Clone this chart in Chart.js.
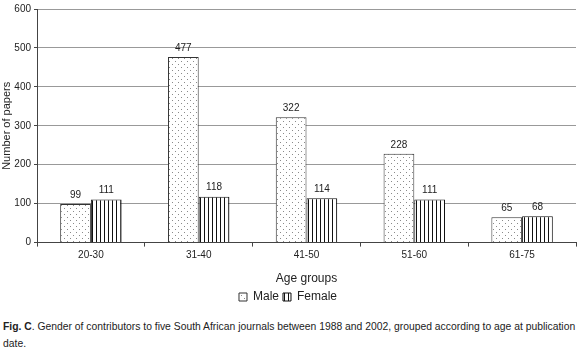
<!DOCTYPE html>
<html>
<head>
<meta charset="utf-8">
<script src="https://cdn.jsdelivr.net/npm/chart.js@4"></script>
<style>
  body { margin: 0; background: #fff; font-family: "Liberation Sans", Arial, sans-serif; }
  #wrap { position: relative; width: 580px; height: 351px; }
  #chart { position: absolute; left: 0; top: 0; }
  #caption { position: absolute; left: 3px; top: 318px; width: 577px; font-size: 10.35px; line-height: 17px; color: #222; }
</style>
</head>
<body>
<div id="wrap">
  <canvas id="chart" width="580" height="313"></canvas>
  <div id="caption"><b>Fig. C</b>. Gender of contributors to five South African journals between 1988 and 2002, grouped according to age at publication date.</div>
</div>
<script>
const ageGroups = ['20-30', '31-40', '41-50', '51-60', '61-75']
const maleValues = [99, 477, 322, 228, 65]
const femaleValues = [111, 118, 114, 111, 68]

// fill patterns like the printed figure
const ctxMain = document.getElementById('chart').getContext('2d')
const dotTile = document.createElement('canvas')
dotTile.width = 6
dotTile.height = 6
const dctx = dotTile.getContext('2d')
dctx.fillStyle = '#fff'
dctx.fillRect(0, 0, 6, 6)
dctx.fillStyle = '#8a8a8a'
dctx.fillRect(1, 1, 1, 1)
dctx.fillRect(4, 4, 1, 1)
const dotPattern = ctxMain.createPattern(dotTile, 'repeat')

const stripeTile = document.createElement('canvas')
stripeTile.width = 4
stripeTile.height = 4
const sctx = stripeTile.getContext('2d')
sctx.fillStyle = '#fff'
sctx.fillRect(0, 0, 4, 4)
sctx.fillStyle = '#111'
sctx.fillRect(0, 0, 1, 4)
const stripePattern = ctxMain.createPattern(stripeTile, 'repeat')

const barLabels = {
    id: 'barLabels',
    afterDatasetsDraw(chart) {
        const ctx = chart.ctx
        ctx.save()
        ctx.font = '10px "Liberation Sans", Arial, sans-serif'
        ctx.fillStyle = '#222'
        ctx.textAlign = 'center'
        ctx.textBaseline = 'bottom'
        chart.data.datasets.forEach((ds, i) => {
            chart.getDatasetMeta(i).data.forEach((bar, j) => {
                ctx.fillText(ds.data[j], bar.x, bar.y - 4)
            })
        })
        ctx.restore()
    }
}

const data = {
    labels: ageGroups,
    datasets: [{
        label: 'Male',
        data: maleValues,
        backgroundColor: dotPattern,
        borderColor: '#333',
        borderWidth: 1,
        borderSkipped: 'bottom'
    }, {
        label: 'Female',
        data: femaleValues,
        backgroundColor: stripePattern,
        borderColor: '#111',
        borderWidth: 1,
        borderSkipped: 'bottom'
    }]
}

const config = {
    type: 'bar',
    data: data,
    options: {
        responsive: false,
        animation: false,
        datasets: {
            bar: { barPercentage: 1, categoryPercentage: 0.57 }
        },
        layout: { padding: { top: 6, right: 4, bottom: 0, left: 0 } },
        plugins: {
            tooltip: { enabled: false },
            legend: {
                position: 'bottom',
                labels: {
                    boxWidth: 8,
                    boxHeight: 8,
                    padding: 4,
                    color: '#222',
                    font: { family: '"Liberation Sans", Arial, sans-serif', size: 12 }
                }
            }
        },
        scales: {
            y: {
                min: 0,
                max: 600,
                ticks: {
                    stepSize: 100,
                    color: '#222',
                    padding: 3,
                    font: { family: '"Liberation Sans", Arial, sans-serif', size: 10 }
                },
                grid: {
                    color: '#999',
                    borderDash: [1, 2],
                    tickLength: 3,
                    tickBorderDash: [],
                    tickColor: '#444'
                },
                border: { color: '#444', width: 1, dash: [] },
                title: {
                    display: true,
                    text: 'Number of papers',
                    color: '#222',
                    padding: { top: 0, bottom: 2 },
                    font: { family: '"Liberation Sans", Arial, sans-serif', size: 11 }
                },
                afterFit(scale) { scale.width = 37 }
            },
            x: {
                ticks: {
                    color: '#222',
                    padding: 3,
                    font: { family: '"Liberation Sans", Arial, sans-serif', size: 10 }
                },
                grid: {
                    offset: true,
                    drawOnChartArea: false,
                    tickLength: 4,
                    color: '#444'
                },
                border: { color: '#444', width: 1 },
                title: {
                    display: true,
                    text: 'Age groups',
                    color: '#222',
                    padding: { top: 7, bottom: 1 },
                    font: { family: '"Liberation Sans", Arial, sans-serif', size: 12 }
                }
            }
        }
    },
    plugins: [barLabels]
}

new Chart(document.getElementById('chart'), config)
</script>
</body>
</html>
